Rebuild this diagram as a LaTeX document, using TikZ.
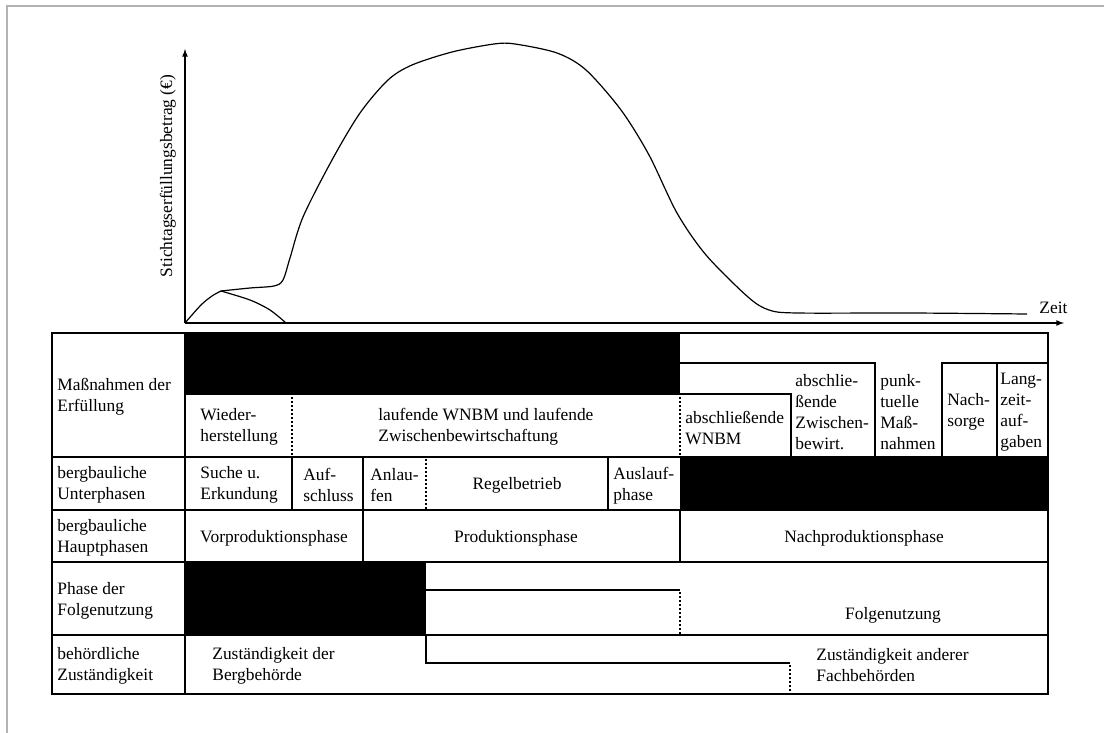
\documentclass[tikz,border=0pt]{standalone}
\usepackage{fontspec}
\setmainfont{Liberation Serif}
\usepackage{tikz}
\usetikzlibrary{arrows}

\begin{document}
\begin{tikzpicture}
		[x=1pt, y=-1pt, >=latex, thick,
		txt/.style = {font=\fontsize{17.4}{21}\selectfont, inner sep=0pt, align=left, anchor=west},
		mid/.style = {txt, align=center, anchor=center},
		rule/.style = {line width=2pt},
		dots/.style = {line width=1.5pt, dash pattern=on 1.5pt off 2.5pt}]
	\useasboundingbox (0,0) rectangle (1104,733);
	\draw[gray!60, line width=2pt] (7,733) -- (7,6) -- (1104,6);

	% axes and curve
	\draw[line width=1.6pt, ->] (185,323) -- (1064,323);
	\draw[line width=1.6pt, ->] (185,323) -- (185,49);
	\node[mid, rotate=90] (ylab) at (168,176) {Stichtagserfüllungsbetrag (€)};
	\node[txt] (zeit) at (1039,308) {Zeit};
	\draw[line width=1.2pt] plot[smooth, tension=0.5] coordinates {(185,323) (201,305) (212,296) (221,291)};
	\draw[line width=1.2pt] plot[smooth, tension=0.5] coordinates {(221,291) (250,300) (270,310) (286,323)};
	\draw[line width=1.2pt] plot[smooth, tension=0.5] coordinates {(221,291) (250,288) (274,286) (283,280)
		(290,258) (303,217) (332,160) (360,113) (388,80) (412,65) (452,52) (494,44) (515,44) (557,53)
		(586,70) (621,110) (649,155) (677,213) (706,255) (748,297) (769,310) (797,313) (910,313) (1027,314)};

	% table frame and rows
	\draw[line width=2.6pt] (52,333) rectangle (1048,694);
	\draw[rule] (185,333) -- (185,694);
	\foreach \y in {457,510,562,635}
		\draw[rule] (52,\y) -- (1048,\y);

	% Massnahmen der Erfuellung
	\fill (185,333) rectangle (680,395);
	\draw[dots] (292,397) -- (292,457);
	\draw[dots] (680,397) -- (680,457);
	\draw[rule] (680,363) -- (875,363) -- (875,457);
	\draw[rule] (680,394) -- (791,394) -- (791,457);
	\draw[rule] (942,457) -- (942,363) -- (1048,363);
	\draw[rule] (997,363) -- (997,457);

	% Unterphasen
	\draw[rule] (292,457) -- (292,510);
	\draw[rule] (363,457) -- (363,510);
	\draw[dots] (426,459) -- (426,510);
	\draw[rule] (608,457) -- (608,510);
	\fill (680,457) rectangle (1048,510);

	% Hauptphasen
	\draw[rule] (363,510) -- (363,562);
	\draw[rule] (680,510) -- (680,562);

	% Folgenutzung
	\fill (185,562) rectangle (426,635);
	\draw[rule] (426,590) -- (680,590);
	\draw[dots] (680,592) -- (680,635);

	% Zustaendigkeit
	\draw[rule] (426,635) -- (426,663) -- (790,663);
	\draw[dots] (790,665) -- (790,694);

	% row labels
	\node[txt] (l1) at (57,397) {Maßnahmen der\\Erfüllung};
	\node[txt] (l2) at (57,485) {bergbauliche\\Unterphasen};
	\node[txt] (l3) at (57,538) {bergbauliche\\Hauptphasen};
	\node[txt] (l4) at (57,601) {Phase der\\Folgenutzung};
	\node[txt] (l5) at (57,666) {behördliche\\Zuständigkeit};

	% cells
	\node[txt] (wied) at (200,427) {Wieder-\\herstellung};
	\node[txt] (lauf) at (378,427) {laufende WNBM und laufende\\Zwischenbewirtschaftung};
	\node[txt] (absw) at (685,428) {abschließende\\WNBM};
	\node[txt] (absz) at (795,412) {abschlie-\\ßende\\Zwischen-\\bewirt.};
	\node[txt] (punk) at (880,412) {punk-\\tuelle\\Maß-\\nahmen};
	\node[txt] (nach) at (947,412) {Nach-\\sorge};
	\node[txt] (lang) at (1000,412) {Lang-\\zeit-\\auf-\\gaben};

	\node[txt] (such) at (200,485) {Suche u.\\Erkundung};
	\node[txt] (aufs) at (303,485) {Auf-\\schluss};
	\node[txt] (anla) at (370,485) {Anlau-\\fen};
	\node[mid] (regb) at (517,485) {Regelbetrieb};
	\node[txt] (ausl) at (613,486) {Auslauf-\\phase};

	\node[mid] (vorp) at (274,538) {Vorproduktionsphase};
	\node[mid] (prod) at (516,538) {Produktionsphase};
	\node[mid] (nacp) at (864,538) {Nachproduktionsphase};

	\node[mid] (folg) at (893,615) {Folgenutzung};

	\node[txt] (berg) at (212,666) {Zuständigkeit der\\Bergbehörde};
	\node[txt] (fach) at (816,665) {Zuständigkeit anderer\\Fachbehörden};
\end{tikzpicture}
\end{document}
